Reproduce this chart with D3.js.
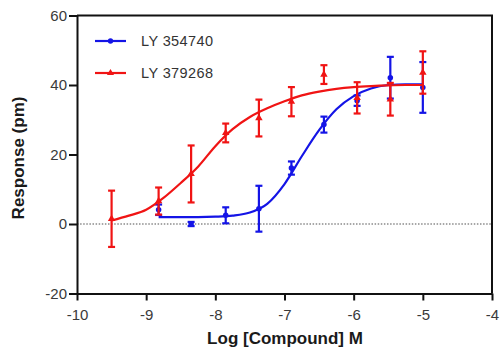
<!DOCTYPE html>
<html>
<head>
<meta charset="utf-8">
<script src="https://cdn.jsdelivr.net/npm/d3@7"></script>
<style>
  html, body { margin: 0; padding: 0; background: #fff; }
  svg { display: block; }
</style>
</head>
<body>
<svg id="chart" width="500" height="354"></svg>
<script>
// ---- data ----
const xTicks = [-10, -9, -8, -7, -6, -5, -4];
const yTicks = [-20, 0, 20, 40, 60];
const seriesNames = ["LY 354740", "LY 379268"];

// LY 354740 (blue) measured points
const blueX    = [-8.82, -8.35, -7.85, -7.37, -6.9, -6.43, -5.95, -5.47, -5.0];
const blueMean = [4.1, 0.0, 2.5, 4.4, 16.1, 28.6, 35.5, 42.1, 39.3];
const blueErr  = [1.5, 0.6, 2.3, 6.6, 1.9, 2.3, 1.5, 6.0, 7.3];

// LY 379268 (red) measured points
const redX    = [-9.5, -8.82, -8.35, -7.85, -7.37, -6.9, -6.43, -5.95, -5.47, -5.0];
const redMean = [1.5, 6.6, 14.4, 26.2, 30.5, 35.2, 43.0, 36.3, 35.9, 43.6];
const redErr  = [8.1, 3.9, 8.2, 2.7, 5.3, 4.2, 2.7, 4.5, 4.7, 6.1];

// fitted curves
const blueCurveX = [-8.82, -8.5, -8.25, -8.0, -7.75, -7.5, -7.25, -7.0, -6.75, -6.5, -6.25, -6.0, -5.75, -5.5, -5.25, -5.0];
const blueCurveY = [2.0, 2.0, 2.0, 2.1, 2.4, 3.3, 5.8, 11.5, 19.5, 27.0, 33.0, 36.8, 39.0, 40.0, 40.2, 40.2];
const redCurveX = [-9.5, -9.25, -9.0, -8.75, -8.5, -8.25, -8.0, -7.75, -7.5, -7.25, -7.0, -6.75, -6.5, -6.25, -6.0, -5.75, -5.5, -5.25, -5.0];
const redCurveY = [1.0, 2.4, 4.1, 7.5, 11.8, 16.5, 22.4, 27.3, 30.8, 33.3, 35.3, 37.0, 38.1, 38.9, 39.4, 39.7, 39.9, 40.0, 40.0];

// ---- drawing ----
const BLUE = "#1414e6", RED = "#f01414";
const FONT = "'Liberation Sans', Arial, sans-serif";
const svg = d3.select("#chart");
const x = d3.scaleLinear().domain([-10, -4]).range([77, 492]);
const y = d3.scaleLinear().domain([-20, 60]).range([293.5, 15.5]);

// zero reference line
svg.append("line")
  .attr("x1", x(-10)).attr("x2", x(-4))
  .attr("y1", y(0)).attr("y2", y(0))
  .attr("stroke", "#8a8a8a").attr("stroke-width", 1.4)
  .attr("stroke-dasharray", "1.5,1.6");

// frame (top & right)
svg.append("path")
  .attr("d", `M${x(-10)},${y(60)}H${x(-4)}V${y(-20)}`)
  .attr("fill", "none").attr("stroke", "#111").attr("stroke-width", 2);

// axes
const gy = svg.append("g").attr("transform", `translate(${x(-10)},0)`)
  .call(d3.axisLeft(y).tickValues(yTicks).tickSize(8).tickSizeOuter(0).tickPadding(2));
const gx = svg.append("g").attr("transform", `translate(0,${y(-20)})`)
  .call(d3.axisBottom(x).tickValues(xTicks).tickSize(7).tickSizeOuter(0).tickPadding(9));
[gx, gy].forEach(g => {
  g.select(".domain").attr("stroke", "#111").attr("stroke-width", 2);
  g.selectAll(".tick line").attr("stroke", "#111").attr("stroke-width", 2);
  g.selectAll(".tick text")
    .attr("fill", "#3a3a3a")
    .style("font-family", FONT)
    .style("font-size", "15px");
});
gx.selectAll(".tick text").text(d => d3.format("d")(d).replace("−", "-"));
gy.selectAll(".tick text").text(d => d3.format("d")(d).replace("−", "-"));

// axis titles
svg.append("text")
  .attr("x", 285).attr("y", 344)
  .attr("text-anchor", "middle")
  .style("font-family", FONT)
  .style("font-size", "17px").style("font-weight", "bold")
  .attr("fill", "#1a1a1a")
  .text("Log [Compound] M");
svg.append("text")
  .attr("transform", "translate(24,158) rotate(-90)")
  .attr("text-anchor", "middle")
  .style("font-family", FONT)
  .style("font-size", "17px").style("font-weight", "bold")
  .attr("fill", "#1a1a1a")
  .text("Response (pm)");

const line = d3.line().x(d => x(d[0])).y(d => y(d[1])).curve(d3.curveMonotoneX);

function drawSeries(xs, means, errs, cx, cy, color, symbol) {
  const g = svg.append("g");
  g.append("path")
    .datum(cx.map((v, i) => [v, cy[i]]))
    .attr("d", line)
    .attr("fill", "none").attr("stroke", color).attr("stroke-width", 2.2);
  const pts = xs.map((v, i) => ({ x: v, m: means[i], e: errs[i] }));
  const eb = g.selectAll(".eb").data(pts).enter().append("g");
  eb.append("line")
    .attr("x1", d => x(d.x)).attr("x2", d => x(d.x))
    .attr("y1", d => y(d.m + d.e)).attr("y2", d => y(d.m - d.e))
    .attr("stroke", color).attr("stroke-width", 2.2);
  [1, -1].forEach(s => {
    eb.append("line")
      .attr("x1", d => x(d.x) - 3.5).attr("x2", d => x(d.x) + 3.5)
      .attr("y1", d => y(d.m + s * d.e)).attr("y2", d => y(d.m + s * d.e))
      .attr("stroke", color).attr("stroke-width", 2.2);
  });
  g.selectAll(".pt").data(pts).enter().append("path")
    .attr("transform", d => `translate(${x(d.x)},${y(d.m)})`)
    .attr("d", d3.symbol().type(symbol).size(24))
    .attr("fill", color);
}

drawSeries(blueX, blueMean, blueErr, blueCurveX, blueCurveY, BLUE, d3.symbolCircle);
drawSeries(redX, redMean, redErr, redCurveX, redCurveY, RED, d3.symbolTriangle);

// legend
const legend = svg.append("g");
[[seriesNames[0], BLUE, d3.symbolCircle, 41], [seriesNames[1], RED, d3.symbolTriangle, 73]]
  .forEach(([name, color, sym, ly]) => {
    legend.append("line").attr("x1", 95).attr("x2", 126).attr("y1", ly).attr("y2", ly)
      .attr("stroke", color).attr("stroke-width", 2.2);
    legend.append("path").attr("transform", `translate(110.5,${ly})`)
      .attr("d", d3.symbol().type(sym).size(22)).attr("fill", color);
    legend.append("text").attr("x", 141).attr("y", ly + 5)
      .style("font-family", FONT)
      .style("font-size", "14.5px")
      .style("letter-spacing", "0.4px")
      .attr("fill", "#333")
      .text(name);
  });
</script>
</body>
</html>
